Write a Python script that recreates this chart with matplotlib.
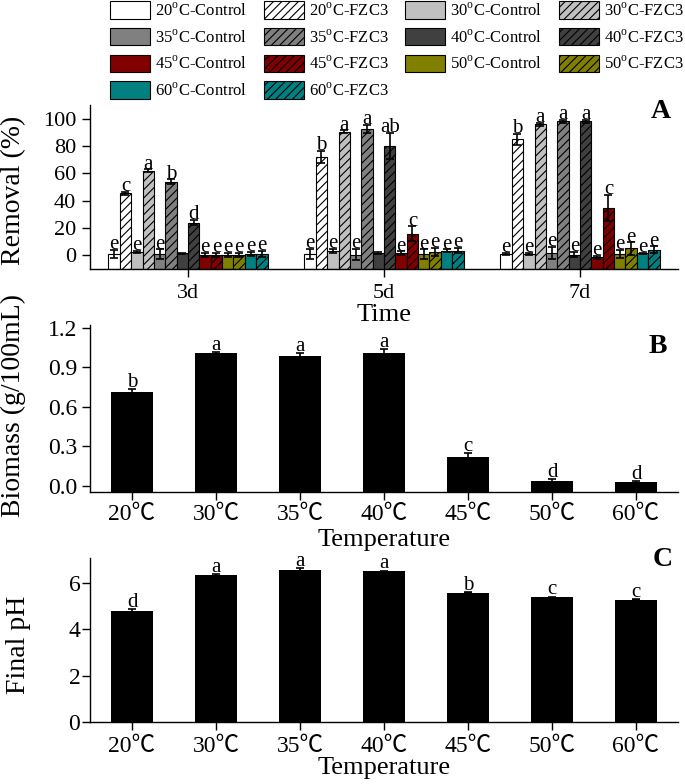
import matplotlib
matplotlib.use("Agg")
import matplotlib.pyplot as plt
import numpy as np

plt.rcParams['font.family'] = ['Liberation Serif', 'Noto Sans CJK SC', 'DejaVu Sans']
plt.rcParams['mathtext.fontset'] = 'custom'
plt.rcParams['mathtext.rm'] = 'Liberation Serif'
plt.rcParams['hatch.linewidth'] = 0.8
plt.rcParams['axes.linewidth'] = 1.0

# ====== DATA =======
temps = ['20', '30', '35', '40', '45', '50', '60']
colors = ['#ffffff', '#c0c0c0', '#808080', '#404040', '#800000', '#808000', '#008080']
days = ['3d', '5d', '7d']

# removal (%) per temperature, values for 3d, 5d, 7d
ctrl_removal = [[1.0, 1.0, 1.2], [2.5, 3.0, 1.0], [0.8, 0.5, 1.5], [1.5, 1.7, 0.5],
                [0.5, 1.5, -1.5], [0.5, 1.0, 1.0], [1.0, 3.4, 1.5]]
ctrl_err = [[3.0, 3.7, 0.8], [1.0, 1.5, 1.0], [3.5, 4.0, 4.5], [0.5, 0.5, 2.0],
            [1.5, 1.5, 1.0], [1.5, 3.4, 3.0], [1.5, 1.0, 0.5]]
ctrl_letters = [['e', 'e', 'e'], ['e', 'e', 'e'], ['e', 'e', 'e'], ['', '', 'e'],
                ['e', 'e', 'e'], ['e', 'e', 'e'], ['e', 'e', 'e']]

fzc_removal = [[45.5, 72.0, 85.0], [62.0, 90.5, 96.0], [54.0, 92.5, 98.0], [24.0, 80.0, 98.0],
               [0.5, 15.7, 34.7], [0.5, 2.5, 5.0], [1.0, 3.4, 4.0]]
fzc_err = [[1.0, 4.5, 4.0], [1.0, 1.0, 1.0], [1.5, 3.0, 1.0], [2.0, 9.8, 1.0],
           [1.5, 5.5, 9.5], [1.5, 3.0, 4.5], [2.5, 2.0, 2.5]]
fzc_letters = [['c', 'b', 'b'], ['a', 'a', 'a'], ['b', 'a', 'a'], ['d', 'ab', 'a'],
               ['e', 'c', 'c'], ['e', 'e', 'e'], ['e', 'e', 'e']]

temp_labels = ['20℃', '30℃', '35℃', '40℃', '45℃', '50℃', '60℃']
biomass = [0.714, 1.005, 0.985, 1.005, 0.22, 0.038, 0.026]
biomass_err = [0.02, 0.01, 0.02, 0.035, 0.025, 0.01, 0.01]
biomass_letters = ['b', 'a', 'a', 'a', 'c', 'd', 'd']

final_ph = [4.80, 6.33, 6.57, 6.50, 5.59, 5.39, 5.29]
ph_err = [0.08, 0.05, 0.06, 0.04, 0.03, 0.03, 0.03]
ph_letters = ['d', 'a', 'a', 'a', 'b', 'c', 'c']

W, H = 685, 784
fig = plt.figure(figsize=(W / 100, H / 100), dpi=100)


def add_ax(left, top, right, bottom):
    ax = fig.add_axes([left / W, 1 - bottom / H, (right - left) / W, (bottom - top) / H])
    ax.spines['top'].set_visible(False)
    ax.spines['right'].set_visible(False)
    return ax


# ====== PANEL A ======
axA = add_ax(90, 105, 678, 269)
ylo_a = -10
bw = 0.058
xg = np.arange(len(days))
handles = {}
for i, t in enumerate(temps):
    for j, (vals, errs, lts, kind) in enumerate([(ctrl_removal[i], ctrl_err[i], ctrl_letters[i], 'Control'),
                                                  (fzc_removal[i], fzc_err[i], fzc_letters[i], 'FZC3')]):
        k = 2 * i + j
        xs = xg + (k - 6.5) * bw
        v = np.array(vals)
        b = axA.bar(xs, v - ylo_a, bottom=ylo_a, width=bw, color=colors[i], edgecolor='black',
                    linewidth=0.8, hatch='////' if kind == 'FZC3' else None,
                    label=f"{t}$^{{\\rm o}}$C-{kind}")
        handles[(i, j)] = b
        axA.errorbar(xs, v, yerr=errs, fmt='none', ecolor='black', elinewidth=1.2,
                     capsize=3, capthick=1.2)
        for x, y, e, l in zip(xs, v, errs, lts):
            if l:
                axA.annotate(l, (x, y + e), xytext=(0, 0.5), textcoords='offset points',
                             ha='center', va='baseline', fontsize=15)
axA.set_xlim(-0.5, 2.5)
axA.set_ylim(ylo_a, 110)
axA.set_xticks(xg)
axA.set_xticklabels(days)
axA.set_yticks([0, 20, 40, 60, 80, 100])
axA.tick_params(direction='out', length=6, width=1, labelsize=16)
axA.tick_params(axis='x', pad=5)
axA.tick_params(axis='y', pad=4)
axA.set_ylabel('Removal (%)', fontsize=20)
axA.yaxis.set_label_coords(-0.108, 0.48)
axA.set_xlabel('Time', fontsize=19, va='top')
axA.xaxis.set_label_coords(0.5, -0.215)
fig.text(661 / W, 1 - 112 / H, 'A', fontsize=20, fontweight='bold', ha='center', va='center')

# legend in row-major order
order = [(0, 0), (2, 0), (4, 0), (6, 0), (0, 1), (2, 1), (4, 1), (6, 1),
         (1, 0), (3, 0), (5, 0), (1, 1), (3, 1), (5, 1)]
hs = [handles[o] for o in order]
fig.legend(hs, [h.get_label() for h in hs], loc='upper left',
           bbox_to_anchor=(110 / W, 1 - 1 / H), ncol=4, frameon=False, fontsize=12,
           handlelength=2.4, handleheight=1.25, handletextpad=0.3, columnspacing=1.0,
           labelspacing=0.5, borderpad=0, borderaxespad=0)

# ====== PANEL B ======
axB = add_ax(90, 325, 678, 491.7)
xt = np.arange(len(temps))
ylo_b = -0.045
bv = np.array(biomass)
axB.bar(xt, bv - ylo_b, bottom=ylo_b, width=0.5, color='black')
axB.errorbar(xt, bv, yerr=biomass_err, fmt='none', ecolor='black', elinewidth=1.2,
             capsize=3, capthick=1.2)
for x, y, e, l in zip(xt, bv, biomass_err, biomass_letters):
    axB.annotate(l, (x, y + e), xytext=(0, 1.5), textcoords='offset points',
                 ha='center', va='baseline', fontsize=15)
axB.set_xlim(-0.5, 6.5)
axB.set_ylim(ylo_b, 1.22)
axB.set_xticks(xt)
axB.set_xticklabels(temp_labels)
axB.set_yticks([0.0, 0.3, 0.6, 0.9, 1.2])
axB.set_yticklabels(['0.0', '0.3', '0.6', '0.9', '1.2'])
axB.tick_params(direction='out', length=6, width=1, labelsize=17)
axB.tick_params(axis='x', pad=3)
axB.tick_params(axis='y', pad=3)
axB.set_ylabel('Biomass (g/100mL)', fontsize=20)
axB.yaxis.set_label_coords(-0.108, 0.52)
axB.set_xlabel('Temperature', fontsize=19, va='top')
axB.xaxis.set_label_coords(0.5, -0.225)
fig.text(658 / W, 1 - 347 / H, 'B', fontsize=20, fontweight='bold', ha='center', va='center')

# ====== PANEL C ======
axC = add_ax(90, 558, 678, 722.3)
pv = np.array(final_ph)
axC.bar(xt, pv, width=0.5, color='black')
axC.errorbar(xt, pv, yerr=ph_err, fmt='none', ecolor='black', elinewidth=1.2,
             capsize=3, capthick=1.2)
for x, y, e, l in zip(xt, pv, ph_err, ph_letters):
    axC.annotate(l, (x, y + e), xytext=(0, 1.5), textcoords='offset points',
                 ha='center', va='baseline', fontsize=15)
axC.set_xlim(-0.5, 6.5)
axC.set_ylim(0, 7.08)
axC.set_xticks(xt)
axC.set_xticklabels(temp_labels)
axC.set_yticks([0, 2, 4, 6])
axC.tick_params(direction='out', length=6, width=1, labelsize=17)
axC.tick_params(axis='x', pad=4)
axC.tick_params(axis='y', pad=1)
axC.set_ylabel('Final pH', fontsize=20)
axC.yaxis.set_label_coords(-0.1, 0.47)
axC.set_xlabel('Temperature', fontsize=19, va='top')
axC.xaxis.set_label_coords(0.5, -0.21)
fig.text(663 / W, 1 - 560 / H, 'C', fontsize=20, fontweight='bold', ha='center', va='center')

fig.savefig('out.png', dpi=100)
